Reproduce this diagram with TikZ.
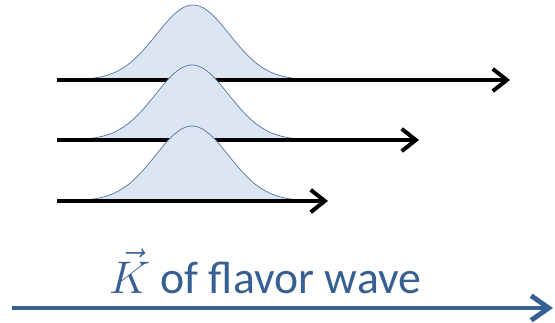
\RequirePackage{fix-cm}
\documentclass[tikz,border=0pt]{standalone}
\usepackage{fontspec}
\setmainfont{Carlito}
\usepackage{tikz}
\usetikzlibrary{arrows.meta,positioning}
\definecolor{wvblue}{RGB}{55,96,146}
\definecolor{wvfill}{RGB}{220,230,242}
\definecolor{wvline}{RGB}{85,115,165}

% Gaussian macro: centre x, base y
\newcommand{\bump}[2]{%
\path[wave]
plot[domain=-115:115, samples=80, smooth]
({#1+\x},{#2-75*exp(-((\x/36.6)^2)/2)});
}

\begin{document}
\begin{tikzpicture}[
    x=0.03cm,
    y=-0.03cm,
    >={Straight Barb[length=12pt,width=19pt]},
    wave/.style={fill=wvfill, draw=wvline, line width=0.6pt},
    axis/.style={->, line width=3.4pt, black}
]

\useasboundingbox (0,0) rectangle (555,322);

% End points of the three wave arrows
\coordinate (s1) at (57,80);
\coordinate (e1) at (510,80);
\coordinate (s2) at (57,140);
\coordinate (e2) at (419,140);
\coordinate (s3) at (57,201);
\coordinate (e3) at (328,201);

% Waves and their arrows, lower bump over upper line
\bump{193}{80}
\draw[axis] (s1) -- (e1);

\bump{192}{140}
\draw[axis] (s2) -- (e2);

\bump{192}{201}
\draw[axis] (s3) -- (e3);


% Label
\node[
    anchor=base,
    text=wvblue,
    font=\fontsize{39pt}{42pt}\selectfont,
    inner sep=0pt
] (lbl)
at (265,293)
{$\vec{K}$ of flavor wave};

% Wave vector arrow
\coordinate (ks) at (12,308);
\coordinate (ke) at (553,308);

\draw[
    -{Straight Barb[length=15pt,width=21pt]},
    line width=4.2pt,
    wvblue
]
(ks) -- (ke);
\end{tikzpicture}
\end{document}
